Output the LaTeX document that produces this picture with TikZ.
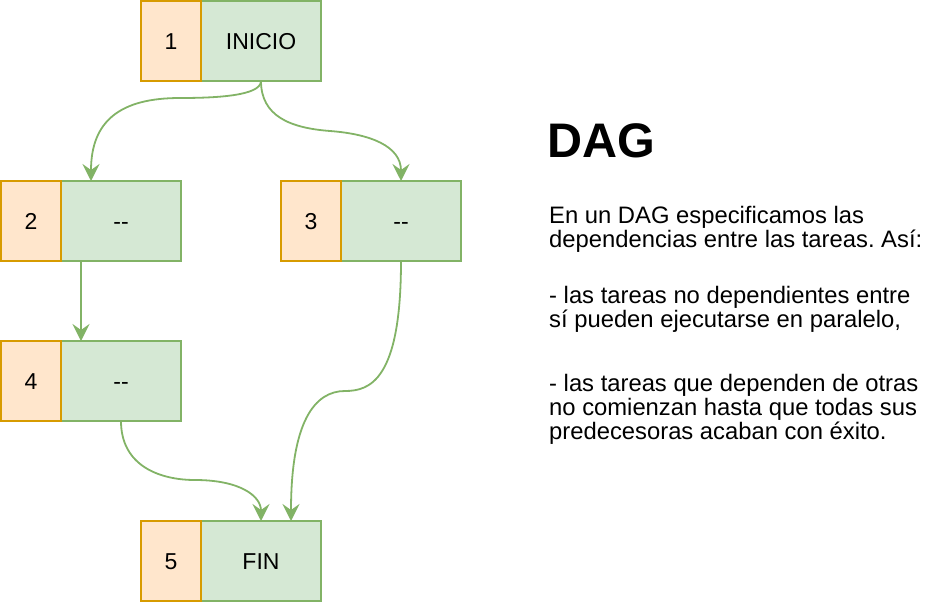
\documentclass[tikz,border=0pt]{standalone}
\usepackage{fontspec}
\setmainfont{Liberation Sans}
\usetikzlibrary{positioning,arrows.meta}
\definecolor{numfill}{HTML}{FFE6CC}
\definecolor{numline}{HTML}{D79B00}
\definecolor{taskfill}{HTML}{D5E8D4}
\definecolor{taskline}{HTML}{82B366}
\frenchspacing
\tikzset{
  numbox/.style={draw=numline,fill=numfill,line width=1.8pt,minimum width=60pt,minimum height=80pt,inner sep=0pt,outer sep=0pt,text height=16.5pt,text depth=0pt,font=\fontsize{23}{24}\selectfont},
  taskbox/.style={draw=taskline,fill=taskfill,line width=1.8pt,minimum width=120pt,minimum height=80pt,inner sep=0pt,outer sep=0pt,text height=16.5pt,text depth=0pt,font=\fontsize{23}{24}\selectfont},
  dep/.style={draw=taskline,line width=1.8pt,-{Stealth[length=17pt,width=17pt,inset=6pt]}}
}

\begin{document}
\begin{tikzpicture}[x=1pt,y=-1pt]
  \useasboundingbox (0,0) rectangle (942,602);
  % tareas: numero a la izquierda, nombre a la derecha
  \foreach \i/\x/\y/\txt in {1/261/41/INICIO,2/121/221/{-\kern0pt-},3/401/221/{-\kern0pt-},4/121/381/{-\kern0pt-},5/261/561/FIN}{
    \node[taskbox] (t\i) at (\x,\y) {\txt};
    \node[numbox,left=0pt of t\i] (n\i) {\i};
  }
  \coordinate (m12) at (180,98);
  \coordinate (m13) at (330,131);
  \coordinate (m45) at (195,480);
  \coordinate (m35) at (345,391);
  \draw[dep] (t1.south) .. controls +(0,15) and +(35,0) .. (m12) .. controls +(-60,0) and +(0,-60) .. ([xshift=30pt]t2.north west);
  \draw[dep] (t1.south) .. controls +(0,35) and +(-40,-3) .. (m13) .. controls +(40,3) and +(0,-35) .. (t3.north);
  \draw[dep] ([xshift=20pt]t2.south west) -- ([xshift=20pt]t4.north west);
  \draw[dep] (t4.south) .. controls +(0,45) and +(-35,0) .. (m45) .. controls +(45,0) and +(0,-25) .. (t5.north);
  \draw[dep] (t3.south) .. controls +(0,119) and +(25,0) .. (m35) .. controls +(-30,0) and +(0,-100) .. ([xshift=30pt]t5.north);
  % texto explicativo
  \node[anchor=base west,inner sep=0pt,font=\fontsize{48.5}{50}\selectfont\bfseries] (title) at (547.5,157) {DAG};
  \node[anchor=base west,inner sep=0pt,align=left,font=\fontsize{23.8}{24}\selectfont] (info) at (549,439)
    {En un DAG especificamos las\\
     dependencias entre las tareas. Así:\\[32pt]
     - las tareas no dependientes entre\\
     sí pueden ejecutarse en paralelo,\\[40pt]
     - las tareas que dependen de otras\\
     no comienzan hasta que todas sus\\
     predecesoras acaban con éxito.};
\end{tikzpicture}
\end{document}
